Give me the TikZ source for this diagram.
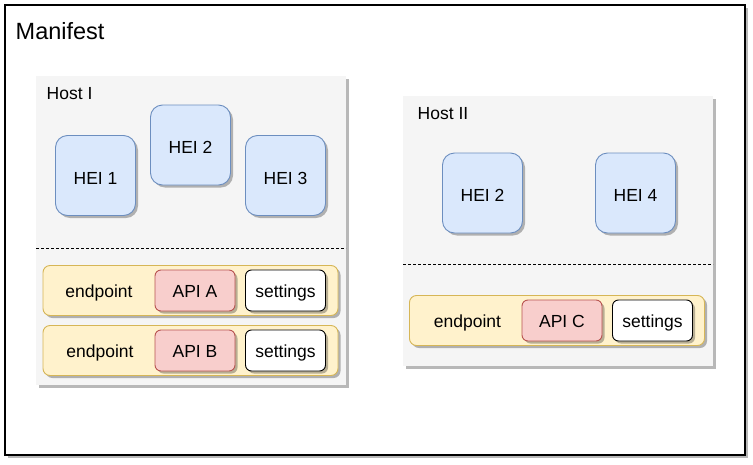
\documentclass[tikz,border=0pt]{standalone}
\usepackage{fontspec}
\setmainfont{Liberation Sans}
\usetikzlibrary{shadows}
\definecolor{hostfill}{HTML}{F5F5F5}
\definecolor{bluefill}{HTML}{DAE8FC}
\definecolor{bluedraw}{HTML}{6C8EBF}
\definecolor{redfill}{HTML}{F8CECC}
\definecolor{reddraw}{HTML}{B85450}
\definecolor{yelfill}{HTML}{FFF2CC}
\definecolor{yeldraw}{HTML}{D6B656}
\begin{document}
\begin{tikzpicture}[x=1pt,y=-1pt,
  shad/.style={drop shadow={shadow xshift=2.5pt,shadow yshift=-2.5pt,opacity=0.28,fill=black}},
  base/.style={rectangle,inner sep=0pt,font=\fontsize{17.5}{21}\selectfont,line width=0.9pt,text height=14pt,text depth=0pt},
  outerbox/.style={base,draw=black,fill=white,line width=1.2pt,shad,minimum width=740pt,minimum height=450pt},
  hostbox/.style={base,fill=hostfill,shad,minimum width=310pt},
  hei/.style={base,draw=bluedraw,fill=bluefill,rounded corners=12pt,shad,minimum width=80pt,minimum height=80pt,text height=17pt},
  eprow/.style={base,draw=yeldraw,fill=yelfill,rounded corners=7pt,shad,minimum width=295pt,minimum height=50pt},
  api/.style={base,draw=reddraw,fill=redfill,rounded corners=6pt,shad,minimum width=80pt,minimum height=41pt},
  setbox/.style={base,draw=black,fill=white,rounded corners=6pt,shad,minimum width=80pt,minimum height=41pt},
  lbl/.style={inner sep=0pt,font=\fontsize{17.5}{21}\selectfont,text height=14pt,text depth=0pt},
  sep/.style={draw=black,line width=0.8pt,dash pattern=on 3pt off 2pt}
]
\useasboundingbox (0,0) rectangle (753,464);
\node[outerbox] (manifest) at (375,230) {};
\node[inner sep=0pt,anchor=base west,font=\fontsize{23.5}{28}\selectfont] (mtitle) at (15.5,39.3) {Manifest};

% Host I
\node[hostbox,minimum height=309pt] (host1) at (191,230.5) {};
\node[inner sep=0pt,font=\fontsize{17.5}{21}\selectfont,anchor=base west] (h1title) at (46.5,99.3) {Host I};
\coordinate (s1a) at (36,248);
\coordinate (s1b) at (346,248);
\draw[sep] (s1a) -- (s1b);
\node[hei] (hei1) at (95.5,175.5) {HEI 1};
\node[hei] (hei2) at (190.5,145) {HEI 2};
\node[hei] (hei3) at (285.5,175.5) {HEI 3};
\node[eprow] (row1) at (190.5,290.5) {};
\node[lbl] (ep1) at (99,290.5) {endpoint};
\node[api] (apia) at (195,290.5) {API A};
\node[setbox] (set1) at (285.5,290.5) {settings};
\node[eprow] (row2) at (190.5,350.5) {};
\node[lbl] (ep2) at (100,350.5) {endpoint};
\node[api] (apib) at (195,350.5) {API B};
\node[setbox] (set2) at (285.5,350.5) {settings};

% Host II
\node[hostbox,minimum height=270pt] (host2) at (558,231) {};
\node[inner sep=0pt,font=\fontsize{17.5}{21}\selectfont,anchor=base west] (h2title) at (417.5,119.3) {Host II};
\coordinate (s2a) at (403,264);
\coordinate (s2b) at (713,264);
\draw[sep] (s2a) -- (s2b);
\node[hei] (hei2b) at (482.5,193) {HEI 2};
\node[hei] (hei4) at (635.5,193) {HEI 4};
\node[eprow] (row3) at (557,320.5) {};
\node[lbl] (ep3) at (467.5,320.5) {endpoint};
\node[api] (apic) at (562,320.5) {API C};
\node[setbox] (set3) at (652.5,320.5) {settings};
\end{tikzpicture}
\end{document}
